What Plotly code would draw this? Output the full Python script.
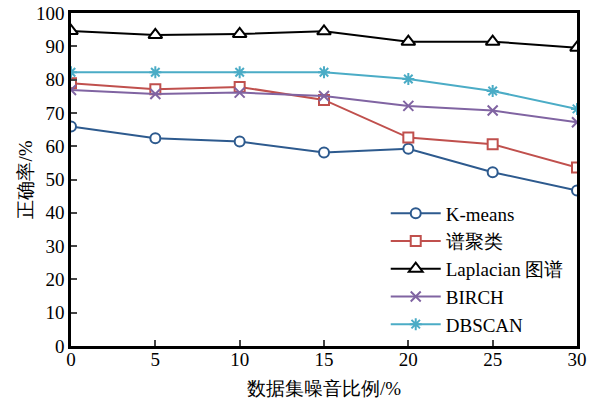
import plotly.graph_objects as go

x_noise = [0, 5, 10, 15, 20, 25, 30]
kmeans = [65.9, 62.4, 61.4, 58.1, 59.2, 52.2, 46.7]
spectral = [78.9, 77.1, 77.8, 73.9, 62.6, 60.6, 53.6]
laplacian = [94.6, 93.4, 93.7, 94.5, 91.4, 91.4, 89.6]
birch = [76.9, 75.7, 76.1, 75.1, 72.1, 70.7, 67.2]
dbscan = [82.2, 82.2, 82.2, 82.2, 80.2, 76.6, 71.2]

series = [
    ("K-means", kmeans, "#2D5A8E", "circle", "white", 10),
    ("谱聚类", spectral, "#C0504D", "square", "white", 10),
    ("Laplacian 图谱", laplacian, "#000000", "triangle-up", "white", 12),
    ("BIRCH", birch, "#8064A2", "x-thin-open", None, 10),
    ("DBSCAN", dbscan, "#4BACC6", "asterisk-open", None, 10),
]

fig = go.Figure()
for name, vals, col, sym, fill, size in series:
    marker = dict(symbol=sym, size=size, line=dict(color=col, width=2))
    marker["color"] = fill if fill else col
    fig.add_trace(go.Scatter(x=x_noise, y=vals, name=name, mode="lines+markers",
                             line=dict(color=col, width=2), marker=marker))

font = "Liberation Serif"
fig.update_layout(
    width=595, height=399,
    margin=dict(l=71, r=18, t=13, b=53),
    plot_bgcolor="white", paper_bgcolor="white",
    font=dict(family=font, size=19, color="black"),
    showlegend=True,
    legend=dict(x=0.622, y=0.455, xanchor="left", yanchor="top",
                bgcolor="rgba(0,0,0,0)", font=dict(size=19, family=font),
                tracegroupgap=0, itemwidth=50),
    annotations=[dict(text="正确率/%", xref="paper", yref="paper",
                      x=(25 - 71) / 506, y=0.5, textangle=-90, showarrow=False,
                      xanchor="center", yanchor="middle", font=dict(size=19))],
)
fig.update_xaxes(range=[0, 30], tickvals=x_noise, ticks="inside", ticklen=6, tickwidth=2,
                 showline=True, linewidth=2.5, linecolor="black", mirror=True,
                 showgrid=False, zeroline=False, automargin=False, ticklabelstandoff=-6,
                 title=dict(text="数据集噪音比例/%", font=dict(size=19)))
fig.update_yaxes(range=[0, 100], dtick=10, ticks="inside", ticklen=6, tickwidth=2,
                 showline=True, linewidth=2.5, linecolor="black", mirror=True,
                 showgrid=False, zeroline=False, automargin=False)
fig.write_html("out.html", post_script="document.body.style.margin='0';",
               config={"displayModeBar": False})
